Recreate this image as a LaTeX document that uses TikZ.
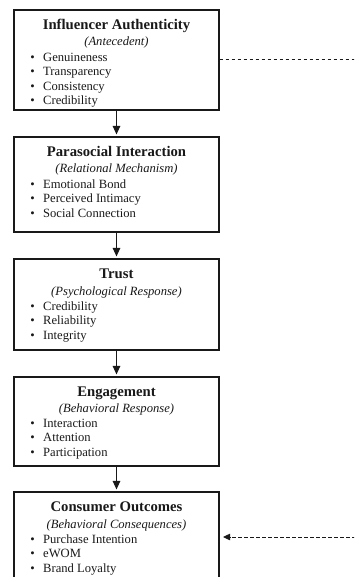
\documentclass[tikz,border=0pt]{standalone}
\usepackage{fontspec}
\setmainfont{Liberation Serif}
\usetikzlibrary{arrows.meta}
\definecolor{ink}{RGB}{25,25,25}
\tikzset{
  box/.style={draw=ink, line width=1.1pt, rectangle, minimum width=205pt, inner sep=0pt, fill=white},
  ttl/.style={anchor=base, inner sep=0pt, text=ink, font=\fontsize{14.7}{17}\selectfont\bfseries},
  sub/.style={anchor=base, inner sep=0pt, text=ink, font=\fontsize{12.6}{15}\selectfont\itshape},
  itm/.style={anchor=base west, inner sep=0pt, text=ink, font=\fontsize{12.6}{15}\selectfont},
  flow/.style={draw=ink, line width=1.1pt, shorten >=2pt, -{Triangle[width=7.5pt,length=8.5pt]}},
  feed/.style={draw=ink, line width=0.9pt, dash pattern=on 3.5pt off 2.5pt}
}
\newcommand{\bl}{\llap{\textbullet\hspace{8.5pt}}}
\begin{document}
\begin{tikzpicture}[x=1pt,y=-1pt]
\useasboundingbox (0,0) rectangle (354,577);
\clip (0,0) rectangle (354,577);
\fill[white] (0,0) rectangle (354,577);
% boxes
\node[box, minimum height=100pt] (b1) at (116.5,60) {};
\node[box, minimum height=95pt] (b2) at (116.5,184.5) {};
\node[box, minimum height=91pt] (b3) at (116.5,304.5) {};
\node[box, minimum height=89pt] (b4) at (116.5,421.5) {};
\node[box, minimum height=98pt] (b5) at (116.5,541) {};
% box 1
\node[ttl] (t1) at (116.5,29.5) {Influencer Authenticity};
\node[sub] (s1) at (116.5,46) {(Antecedent)};
\node[itm] (i11) at (43,61.5) {\bl Genuineness};
\node[itm] (i12) at (43,75.9) {\bl Transparency};
\node[itm] (i13) at (43,90.3) {\bl Consistency};
\node[itm] (i14) at (43,104.7) {\bl Credibility};
% box 2
\node[ttl] (t2) at (116.5,156.5) {Parasocial Interaction};
\node[sub] (s2) at (116.5,173) {(Relational Mechanism)};
\node[itm] (i21) at (43,188.5) {\bl Emotional Bond};
\node[itm] (i22) at (43,202.9) {\bl Perceived Intimacy};
\node[itm] (i23) at (43,217.3) {\bl Social Connection};
% box 3
\node[ttl] (t3) at (116.5,278) {Trust};
\node[sub] (s3) at (116.5,295) {(Psychological Response)};
\node[itm] (i31) at (43,310.5) {\bl Credibility};
\node[itm] (i32) at (43,324.9) {\bl Reliability};
\node[itm] (i33) at (43,339.3) {\bl Integrity};
% box 4
\node[ttl] (t4) at (116.5,396) {Engagement};
\node[sub] (s4) at (116.5,412.5) {(Behavioral Response)};
\node[itm] (i41) at (43,427.5) {\bl Interaction};
\node[itm] (i42) at (43,441.9) {\bl Attention};
\node[itm] (i43) at (43,456.3) {\bl Participation};
% box 5
\node[ttl] (t5) at (116.5,511.5) {Consumer Outcomes};
\node[sub] (s5) at (116.5,528) {(Behavioral Consequences)};
\node[itm] (i51) at (43,543.5) {\bl Purchase Intention};
\node[itm] (i52) at (43,557.9) {\bl eWOM};
\node[itm] (i53) at (43,572.3) {\bl Brand Loyalty};
% flow arrows
\draw[flow] (b1) -- (b2);
\draw[flow] (b2) -- (b3);
\draw[flow] (b3) -- (b4);
\draw[flow] (b4) -- (b5);
% feedback dashed connector (leaves the frame on the right)
\coordinate (r1) at (370,59.5);
\coordinate (r2) at (370,537);
\draw[feed, shorten >=3.5pt, -{Triangle[width=6.5pt,length=7pt]}] (b1.east |- r1) -- (r1) -- (r2) -- (b5.east |- r2);
\end{tikzpicture}
\end{document}
